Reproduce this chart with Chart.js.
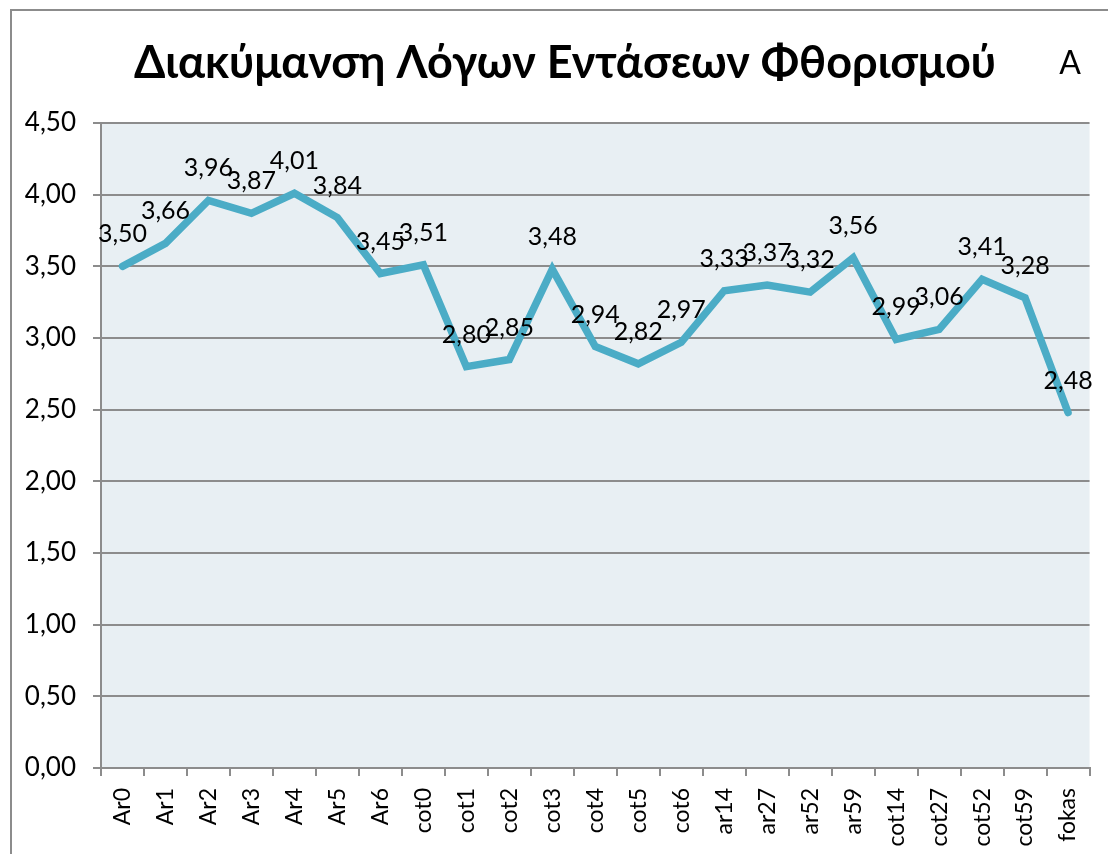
<!DOCTYPE html>
<html>
<head>
<meta charset="utf-8">
<script src="https://cdn.jsdelivr.net/npm/chart.js@4/dist/chart.umd.min.js"></script>
<style>
  html, body { margin: 0; padding: 0; background: #fff; }
  #wrap { width: 1108px; height: 854px; }
</style>
</head>
<body>
<div id="wrap"><canvas id="chart" width="1108" height="854"></canvas></div>
<script>
// Δείγματα και λόγοι εντάσεων
const samples = ['Ar0', 'Ar1', 'Ar2', 'Ar3', 'Ar4', 'Ar5', 'Ar6',
  'cot0', 'cot1', 'cot2', 'cot3', 'cot4', 'cot5', 'cot6',
  'ar14', 'ar27', 'ar52', 'ar59', 'cot14', 'cot27', 'cot52', 'cot59', 'fokas'];
const ratios = [3.50, 3.66, 3.96, 3.87, 4.01, 3.84, 3.45,
  3.51, 2.80, 2.85, 3.48, 2.94, 2.82, 2.97,
  3.33, 3.37, 3.32, 3.56, 2.99, 3.06, 3.41, 3.28, 2.48];
const yTicks = [0, 0.5, 1, 1.5, 2, 2.5, 3, 3.5, 4, 4.5];

const chartTitle = 'Διακύμανση Λόγων Εντάσεων Φθορισμού';
const cornerMark = 'A';

const FONT = 'Lato, "Open Sans", sans-serif';
const fmt = v => v.toFixed(2).replace('.', ',');

// πλαίσιο, τίτλος και φόντο περιοχής σχεδίασης
const frame = {
  id: 'frame',
  beforeDraw(chart) {
    const ctx = chart.ctx;
    const a = chart.chartArea;
    ctx.save();
    ctx.fillStyle = '#e8eff3';
    ctx.fillRect(a.left, a.top, a.right - a.left, a.bottom - a.top);
    ctx.strokeStyle = '#8c8c8c';
    ctx.lineWidth = 2;
    ctx.strokeRect(11, 10, 1300, 1000);
    ctx.fillStyle = '#000';
    ctx.textBaseline = 'middle';
    ctx.textAlign = 'center';
    ctx.font = 'bold 45px ' + FONT;
    ctx.fillText(chartTitle, 565, 63);
    ctx.font = '32px ' + FONT;
    ctx.fillText(cornerMark, 1070, 64);
    ctx.restore();
  }
};

// ετικέτες τιμών πάνω από κάθε σημείο
const valueLabels = {
  id: 'valueLabels',
  afterDatasetsDraw(chart) {
    const ctx = chart.ctx;
    const meta = chart.getDatasetMeta(0);
    ctx.save();
    ctx.font = '25px ' + FONT;
    ctx.fillStyle = '#000';
    ctx.textAlign = 'center';
    ctx.textBaseline = 'middle';
    meta.data.forEach((pt, i) => {
      ctx.fillText(fmt(ratios[i]), pt.x, pt.y - 32);
    });
    ctx.restore();
  }
};

new Chart(document.getElementById('chart'), {
  type: 'line',
  data: {
    labels: samples,
    datasets: [{
      data: ratios,
      borderColor: '#4bacc6',
      borderWidth: 7.5,
      pointRadius: 0,
      tension: 0,
      borderCapStyle: 'round',
      borderJoinStyle: 'miter'
    }]
  },
  options: {
    responsive: false,
    animation: false,
    layout: { padding: { left: 12, top: 123, right: 16, bottom: 0 } },
    plugins: {
      legend: { display: false },
      tooltip: { enabled: false },
      title: { display: false }
    },
    scales: {
      x: {
        offset: true,
        grid: {
          offset: true,
          drawOnChartArea: false,
          drawTicks: true,
          tickLength: 8,
          color: '#8c8c8c',
          lineWidth: 2
        },
        border: { color: '#8c8c8c', width: 2 },
        ticks: {
          color: '#000',
          font: { family: FONT, size: 23 },
          minRotation: 90,
          maxRotation: 90,
          autoSkip: false,
          padding: 12
        },
        afterFit(scale) { scale.height = 86; }
      },
      y: {
        min: 0,
        max: 4.5,
        afterBuildTicks(scale) { scale.ticks = yTicks.map(v => ({ value: v })); },
        grid: {
          color: '#8c8c8c',
          lineWidth: 2,
          drawTicks: true,
          tickLength: 8
        },
        border: { color: '#8c8c8c', width: 2 },
        ticks: {
          color: '#000',
          font: { family: FONT, size: 26 },
          padding: 17,
          callback: v => fmt(v)
        },
        afterFit(scale) { scale.width = 89; }
      }
    }
  },
  plugins: [frame, valueLabels]
});
</script>
</body>
</html>
